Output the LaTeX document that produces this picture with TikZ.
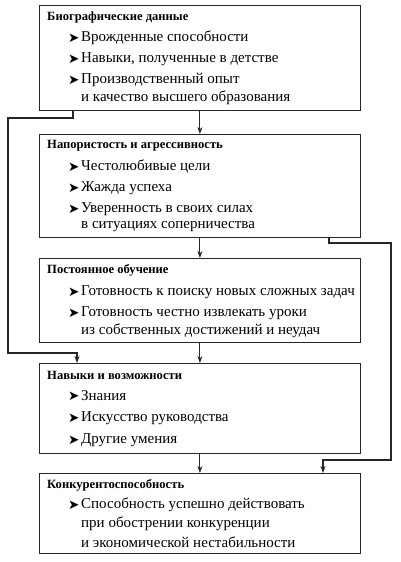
\documentclass[tikz,border=0pt]{standalone}
\usepackage{fontspec}
\setmainfont{Liberation Serif}
\newfontfamily\dejavu{DejaVu Sans}
\usetikzlibrary{arrows.meta,calc}
\begin{document}
\begin{tikzpicture}[x=1pt,y=-1pt,
  box/.style={draw=black!85, line width=0.8pt, anchor=north west, inner sep=0pt, minimum width=321pt},
  head/.style={anchor=west, inner sep=0pt, font=\bfseries\fontsize{12.6}{15}\selectfont},
  item/.style={anchor=west, inner sep=0pt, font=\fontsize{15}{17}\selectfont},
  pointer/.style={anchor=west, inner sep=0pt, font=\dejavu\fontsize{13.5}{15}\selectfont},
  flow/.style={draw=black!85, line width=0.9pt, -{Stealth[length=7pt,width=5pt]}},
  side/.style={draw=black!85, line width=1.6pt, line join=miter, -{Stealth[length=7pt,width=5pt]}}
]
\fill[white] (0,0) rectangle (400,562);
\useasboundingbox (0,0) rectangle (400,562);

% boxes
\node[box, minimum height=105pt] (b1) at (39,5) {};
\node[box, minimum height=103pt] (b2) at (39,134) {};
\node[box, minimum height=84pt]  (b3) at (39,258) {};
\node[box, minimum height=90pt]  (b4) at (39,363) {};
\node[box, minimum height=80pt]  (b5) at (39,473) {};

% box 1
\node[head] (h1) at (47,17) {Биографические данные};
\node[pointer] (p11) at (68,38) {➤};
\node[item] (t11) at (81,38) {Врожденные способности};
\node[pointer] (p12) at (68,59) {➤};
\node[item] (t12) at (81,59) {Навыки, полученные в детстве};
\node[pointer] (p13) at (68,80) {➤};
\node[item] (t13) at (81,80) {Производственный опыт};
\node[item] (t13b) at (81,98) {и качество высшего образования};

% box 2
\node[head] (h2) at (47,146) {Напористость и агрессивность};
\node[pointer] (p21) at (68,167) {➤};
\node[item] (t21) at (81,167) {Честолюбивые цели};
\node[pointer] (p22) at (68,188) {➤};
\node[item] (t22) at (81,188) {Жажда успеха};
\node[pointer] (p23) at (68,209) {➤};
\node[item] (t23) at (81,209) {Уверенность в своих силах};
\node[item] (t23b) at (81,227) {в ситуациях соперничества};

% box 3
\node[head] (h3) at (47,270) {Постоянное обучение};
\node[pointer] (p31) at (68,292) {➤};
\node[item] (t31) at (81,292) {Готовность к поиску новых сложных задач};
\node[pointer] (p32) at (68,313) {➤};
\node[item] (t32) at (81,313) {Готовность честно извлекать уроки};
\node[item] (t32b) at (81,331) {из собственных достижений и неудач};

% box 4
\node[head] (h4) at (47,375) {Навыки и возможности};
\node[pointer] (p41) at (68,396) {➤};
\node[item] (t41) at (81,396) {Знания};
\node[pointer] (p42) at (68,418) {➤};
\node[item] (t42) at (81,418) {Искусство руководства};
\node[pointer] (p43) at (68,440) {➤};
\node[item] (t43) at (81,440) {Другие умения};

% box 5
\node[head] (h5) at (47,485) {Конкурентоспособность};
\node[pointer] (p51) at (68,505) {➤};
\node[item] (t51) at (81,505) {Способность успешно действовать};
\node[item] (t51b) at (81,524) {при обострении конкуренции};
\node[item] (t51c) at (81,542) {и экономической нестабильности};

% coordinates for bypass connectors
\coordinate (L1) at (8,118);
\coordinate (L2) at (8,353);
\coordinate (R1) at (391,243);
\coordinate (R2) at (391,460);

% central flow
\draw[flow] (b1.south) -- (b2.north);
\draw[flow] (b2.south) -- (b3.north);
\draw[flow] (b3.south) -- (b4.north);
\draw[flow] (b4.south) -- (b5.north);

% bypass connectors
\draw[side] ([xshift=34pt]b1.south west) |- (L1) -- (L2) -| ([xshift=38pt]b4.north west);
\draw[side] ([xshift=290pt]b2.south west) |- (R1) -- (R2) -| ([xshift=284pt]b5.north west);
\end{tikzpicture}
\end{document}
